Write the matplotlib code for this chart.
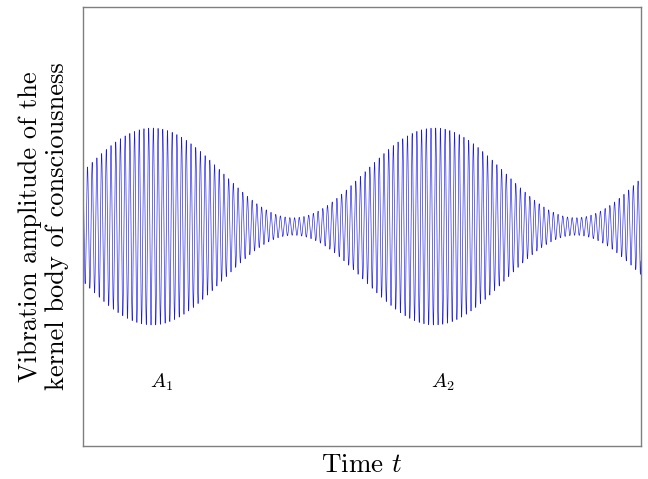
import numpy as np
import matplotlib
matplotlib.use("Agg")
import matplotlib.pyplot as plt

# Values (time axis scaled to 0..1, amplitude to -1..1)
time_span = [0.0, 1.0]
beat_period = 0.506          # distance between the two envelope maxima
first_peak_time = 0.124      # where A1 sits
carrier_cycles_per_beat = 60
envelope_peak = 0.449        # amplitude at A1 / A2
envelope_trough = 0.040      # amplitude at the pinch between them
peak_labels = ["$A_1$", "$A_2$"]
peak_label_times = [0.141, 0.645]

plt.rcParams["font.family"] = "serif"
plt.rcParams["font.serif"] = ["cmr10", "DejaVu Serif"]
plt.rcParams["mathtext.fontset"] = "cm"
plt.rcParams["axes.unicode_minus"] = False

t = np.linspace(time_span[0], time_span[1], 12000)
mean_amp = 0.5 * (envelope_peak + envelope_trough)
swing = 0.5 * (envelope_peak - envelope_trough)
phase = 2 * np.pi * (t - first_peak_time) / beat_period
envelope = mean_amp + swing * np.cos(phase)
signal = envelope * np.sin(carrier_cycles_per_beat * phase)

fig = plt.figure(figsize=(6.48, 4.79), dpi=100)
ax = fig.add_axes([83 / 648, 1 - 446 / 479, 558 / 648, 439 / 479])
ax.plot(t, signal, color="#1a1aee", linewidth=0.45)
ax.set_xlim(*time_span)
ax.set_ylim(-1, 1)
ax.set_xticks([])
ax.set_yticks([])
for spine in ax.spines.values():
    spine.set_color("#7f7f7f")
    spine.set_linewidth(1.0)

for lab, tx in zip(peak_labels, peak_label_times):
    ax.text(tx, -0.71, lab, fontsize=14.5, ha="center", va="center")

ax.set_xlabel("Time $t$", fontsize=19.5, labelpad=5)
ax.set_ylabel("Vibration amplitude of the\nkernel body of consciousness",
              fontsize=19, labelpad=10, linespacing=1.2)

fig.savefig("out.png", dpi=100)
